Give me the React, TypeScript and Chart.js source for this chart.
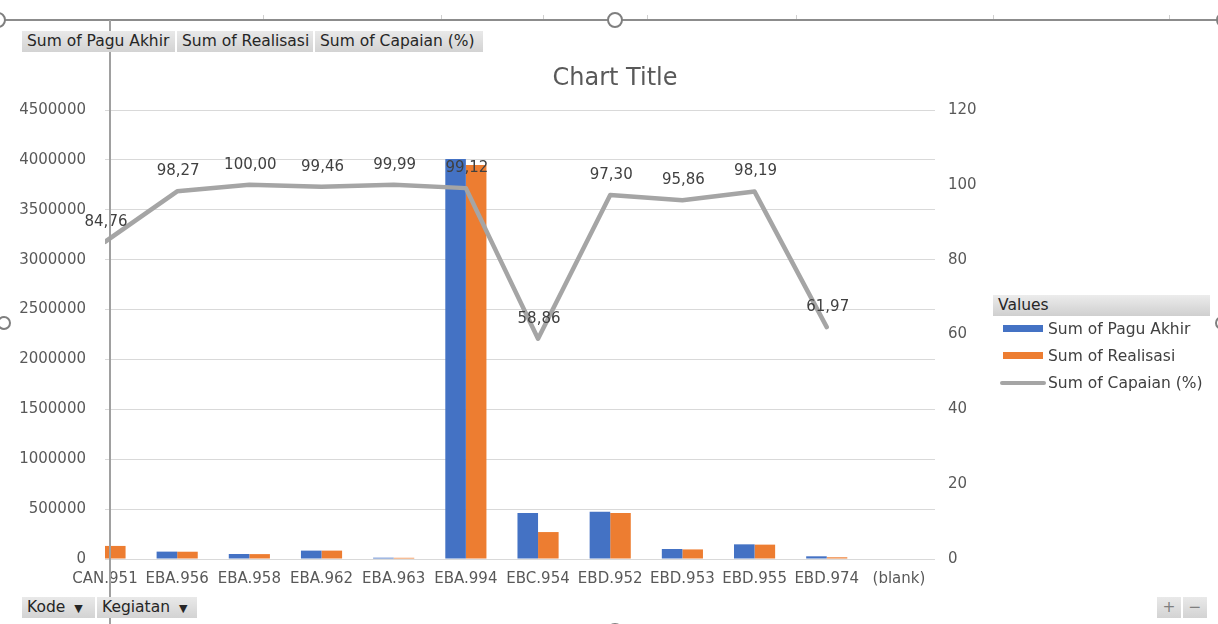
import React, { useEffect, useRef } from "react";
import { Chart, registerables } from "chart.js";

Chart.register(...registerables);

// ---- data ----
const categories = [
  "CAN.951", "EBA.956", "EBA.958", "EBA.962", "EBA.963", "EBA.994",
  "EBC.954", "EBD.952", "EBD.953", "EBD.955", "EBD.974", "(blank)",
];
const paguAkhir: (number | null)[] = [
  null, 74000, 50000, 84000, 13000, 4010000, 460000, 473000, 100000, 147000, 27000, null,
];
const realisasi: (number | null)[] = [
  131000, 73000, 49000, 84000, 12000, 3950000, 270000, 460000, 96000, 144000, 17000, null,
];
const capaian: (number | null)[] = [
  84.76, 98.27, 100.0, 99.46, 99.99, 99.12, 58.86, 97.3, 95.86, 98.19, 61.97, null,
];
const seriesNames = ["Sum of Pagu Akhir", "Sum of Realisasi", "Sum of Capaian (%)"];
const fieldButtons = ["Sum of Pagu Akhir", "Sum of Realisasi", "Sum of Capaian (%)"];
const axisButtons = ["Kode", "Kegiatan"];
const chartTitle = "Chart Title";
const legendTitle = "Values";

const FONT = '"DejaVu Sans", sans-serif';
const BLUE = "#4472c4";
const ORANGE = "#ed7d31";
const GRAY = "#a5a5a5";

const toPoints = (arr: (number | null)[]) => arr.map((v, i) => ({ x: i, y: v }));

const lineLabels = {
  id: "lineLabels",
  afterDatasetsDraw(chart: any) {
    const meta = chart.getDatasetMeta(0);
    const ctx = chart.ctx;
    ctx.save();
    ctx.font = `15px ${FONT}`;
    ctx.fillStyle = "#404040";
    ctx.textAlign = "center";
    ctx.textBaseline = "middle";
    meta.data.forEach((pt: any, i: number) => {
      const v = capaian[i];
      if (v == null) return;
      ctx.fillText(v.toFixed(2).replace(".", ","), pt.x + 1, pt.y - 20);
    });
    ctx.restore();
  },
};

export default function App() {
  const ref = useRef<HTMLCanvasElement>(null);

  useEffect(() => {
    const chart = new Chart(ref.current as HTMLCanvasElement, {
      type: "bar",
      data: {
        datasets: [
          {
            type: "line",
            label: seriesNames[2],
            data: toPoints(capaian),
            yAxisID: "y1",
            xAxisID: "x",
            borderColor: GRAY,
            backgroundColor: GRAY,
            borderWidth: 4.5,
            pointRadius: 0,
            tension: 0,
            borderJoinStyle: "round",
            borderCapStyle: "round",
            order: 0,
          } as any,
          {
            type: "bar",
            label: seriesNames[0],
            data: toPoints(paguAkhir),
            yAxisID: "y",
            xAxisID: "x",
            backgroundColor: BLUE,
            categoryPercentage: 0.57,
            barPercentage: 1.0,
            order: 1,
          } as any,
          {
            type: "bar",
            label: seriesNames[1],
            data: toPoints(realisasi),
            yAxisID: "y",
            xAxisID: "x",
            backgroundColor: ORANGE,
            categoryPercentage: 0.57,
            barPercentage: 1.0,
            order: 2,
          } as any,
        ],
      },
      options: {
        responsive: false,
        animation: false,
        layout: { padding: { top: 110, left: 0, right: 223, bottom: 35 } },
        plugins: {
          legend: { display: false },
          tooltip: { enabled: false },
          title: { display: false },
        },
        scales: {
          x: {
            type: "linear",
            min: 0,
            max: 11.5,
            offset: false,
            grid: { display: false, offset: false, drawTicks: false },
            border: { display: false },
            ticks: {
              stepSize: 1,
              includeBounds: false,
              autoSkip: false,
              maxRotation: 0,
              minRotation: 0,
              padding: 11,
              color: "#595959",
              font: { family: FONT, size: 15 },
              callback: (v: any) => (Number.isInteger(v) ? categories[v] ?? "" : ""),
            },
            afterFit: (s: any) => {
              s.height = 30;
            },
          } as any,
          y: {
            type: "linear",
            position: "left",
            min: 0,
            max: 4500000,
            grid: { color: "#d9d9d9", lineWidth: 1, drawTicks: false },
            border: { display: false },
            ticks: {
              stepSize: 500000,
              padding: 19,
              color: "#595959",
              font: { family: FONT, size: 15 },
              callback: (v: any) => String(v),
            },
            afterFit: (s: any) => {
              s.width = 105;
            },
          } as any,
          y1: {
            type: "linear",
            position: "right",
            min: 0,
            max: 120,
            grid: { display: false, drawTicks: false },
            border: { display: false },
            ticks: {
              stepSize: 20,
              padding: 13,
              color: "#595959",
              font: { family: FONT, size: 15 },
              callback: (v: any) => String(v),
            },
            afterFit: (s: any) => {
              s.width = 60;
            },
          } as any,
        },
      },
      plugins: [lineLabels],
    });
    return () => chart.destroy();
  }, []);

  const btnBase: React.CSSProperties = {
    position: "absolute",
    height: 21,
    lineHeight: "21px",
    background: "linear-gradient(#e9e9e9, #d3d3d3)",
    color: "#262626",
    fontSize: 15.5,
    paddingLeft: 5,
    boxSizing: "border-box",
    whiteSpace: "nowrap",
  };

  const legendText: React.CSSProperties = {
    position: "absolute",
    left: 1048,
    fontSize: 15.5,
    color: "#404040",
    lineHeight: "20px",
    whiteSpace: "nowrap",
  };

  const handle = (cx: number, cy: number, r: number): React.CSSProperties => ({
    position: "absolute",
    left: cx - r,
    top: cy - r,
    width: 2 * r - 4,
    height: 2 * r - 4,
    borderRadius: "50%",
    border: "2px solid #7f7f7f",
    background: "#fff",
  });

  const topTicks = [263, 441, 543, 647, 796, 993, 1169];

  return (
    <div
      style={{
        position: "fixed",
        left: 0,
        top: 0,
        width: 1218,
        height: 624,
        background: "#fff",
        overflow: "hidden",
        fontFamily: FONT,
      }}
    >
      <canvas
        ref={ref}
        width={1218}
        height={624}
        style={{ position: "absolute", left: 0, top: 0, width: 1218, height: 624 }}
      />

      {/* frame line and column marks */}
      <div style={{ position: "absolute", left: 0, top: 19, width: 1218, height: 2, background: "#8c8c8c" }} />
      {topTicks.map((x) => (
        <div key={x} style={{ position: "absolute", left: x, top: 15, width: 1, height: 4, background: "#d0d0d0" }} />
      ))}
      <div style={{ position: "absolute", left: 109, top: 20, width: 2, height: 604, background: "#a0a0a0" }} />
      <div style={handle(615, 20, 8)} />
      <div style={handle(-2, 20, 8)} />
      <div style={handle(1224, 20, 8)} />
      <div style={handle(4, 323, 7)} />
      <div style={handle(1222, 323, 7)} />
      <div style={handle(615, 631, 8)} />

      {/* title */}
      <div
        style={{
          position: "absolute",
          left: 0,
          top: 62,
          width: 1230,
          textAlign: "center",
          fontSize: 24,
          lineHeight: "30px",
          color: "#595959",
        }}
      >
        {chartTitle}
      </div>

      {/* pivot field buttons */}
      <div style={{ ...btnBase, left: 22, top: 31, width: 153 }}>{fieldButtons[0]}</div>
      <div style={{ ...btnBase, left: 177, top: 31, width: 136 }}>{fieldButtons[1]}</div>
      <div style={{ ...btnBase, left: 315, top: 31, width: 168 }}>{fieldButtons[2]}</div>

      <div style={{ ...btnBase, left: 22, top: 597, width: 73 }}>
        {axisButtons[0]} <span style={{ fontSize: 11, marginLeft: 4 }}>▼</span>
      </div>
      <div style={{ ...btnBase, left: 97, top: 597, width: 100 }}>
        {axisButtons[1]} <span style={{ fontSize: 11, marginLeft: 4 }}>▼</span>
      </div>
      <div style={{ ...btnBase, left: 1157, top: 597, width: 24, paddingLeft: 0, textAlign: "center", color: "#7f7f7f" }}>+</div>
      <div style={{ ...btnBase, left: 1183, top: 597, width: 24, paddingLeft: 0, textAlign: "center", color: "#7f7f7f" }}>−</div>

      {/* legend */}
      <div
        style={{
          position: "absolute",
          left: 993,
          top: 295,
          width: 217,
          height: 21,
          lineHeight: "21px",
          background: "linear-gradient(#ececec, #cfcfcf)",
          paddingLeft: 5,
          boxSizing: "border-box",
          fontSize: 15.5,
          color: "#262626",
        }}
      >
        {legendTitle}
      </div>
      <div style={{ position: "absolute", left: 1003, top: 325, width: 40, height: 7, background: BLUE }} />
      <div style={{ ...legendText, top: 319 }}>{seriesNames[0]}</div>
      <div style={{ position: "absolute", left: 1003, top: 352, width: 40, height: 7, background: ORANGE }} />
      <div style={{ ...legendText, top: 346 }}>{seriesNames[1]}</div>
      <div style={{ position: "absolute", left: 1000, top: 381, width: 46, height: 4, borderRadius: 2, background: GRAY }} />
      <div style={{ ...legendText, top: 373 }}>{seriesNames[2]}</div>
    </div>
  );
}
